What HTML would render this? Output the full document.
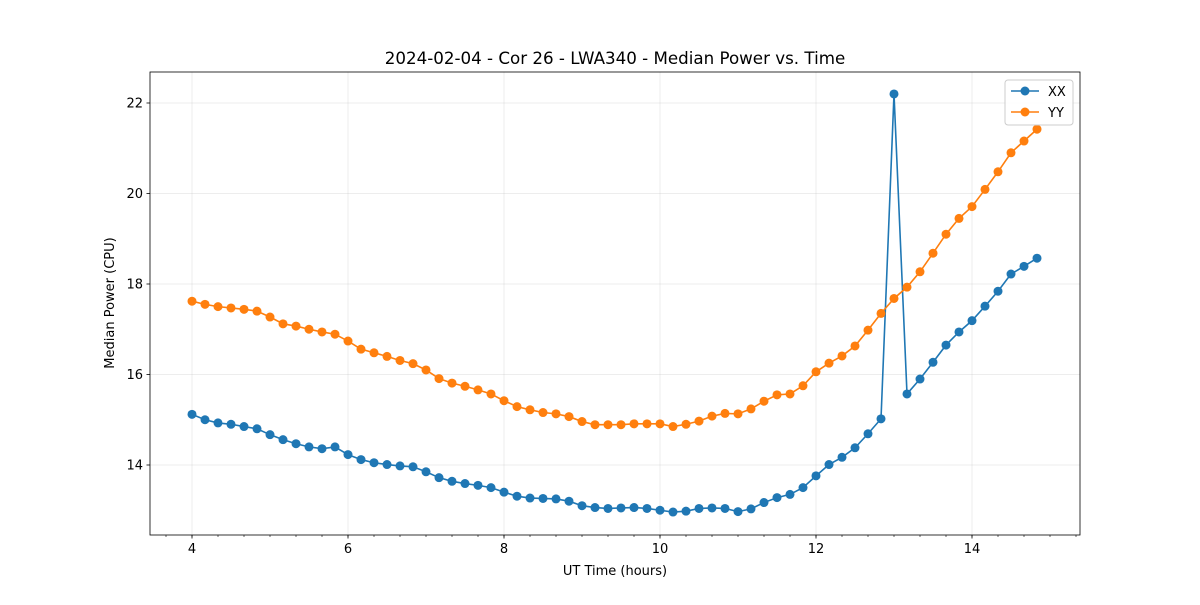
<!DOCTYPE html>
<html><head><meta charset="utf-8">
<style>
body{margin:0;background:#fff;}
svg text{font-family:"DejaVu Sans","Liberation Sans",sans-serif;fill:#000;}
</style></head>
<body>
<svg id="chart" width="1200" height="600" xmlns="http://www.w3.org/2000/svg"></svg>
<script>
const xxValues=[15.12,15.0,14.93,14.9,14.85,14.8,14.67,14.56,14.47,14.4,14.36,14.4,14.23,14.12,14.05,14.01,13.98,13.96,13.85,13.72,13.64,13.59,13.55,13.5,13.4,13.31,13.27,13.26,13.25,13.2,13.1,13.06,13.04,13.05,13.06,13.04,13.0,12.96,12.98,13.04,13.05,13.04,12.97,13.03,13.17,13.28,13.35,13.5,13.76,14.01,14.17,14.38,14.69,15.02,22.2,15.57,15.9,16.27,16.65,16.94,17.19,17.51,17.84,18.22,18.39,18.57];
const yyValues=[17.62,17.55,17.5,17.47,17.44,17.4,17.27,17.12,17.07,17.0,16.94,16.89,16.74,16.56,16.48,16.4,16.31,16.24,16.1,15.91,15.81,15.74,15.66,15.57,15.42,15.29,15.22,15.16,15.13,15.07,14.96,14.89,14.89,14.89,14.91,14.91,14.91,14.85,14.9,14.97,15.08,15.14,15.13,15.24,15.41,15.55,15.57,15.75,16.06,16.25,16.41,16.63,16.98,17.35,17.68,17.93,18.27,18.68,19.1,19.45,19.71,20.09,20.48,20.9,21.16,21.42];
const xTicks=[4,6,8,10,12,14];
const yTicks=[14,16,18,20,22];
const startHour=4, stepHour=1/6;

const L=150,R=1080,T=72,B=535;
const xMin=3.4615,xMax=15.3846,yMin=12.453,yMax=22.685;
const sx=v=>L+(v-xMin)/(xMax-xMin)*(R-L);
const sy=v=>B-(v-yMin)/(yMax-yMin)*(B-T);
const svg=document.getElementById('chart');
const NS='http://www.w3.org/2000/svg';
function mk(tag,attrs,parent){const e=document.createElementNS(NS,tag);for(const k in attrs)e.setAttribute(k,attrs[k]);(parent||svg).appendChild(e);return e;}

xTicks.forEach(t=>{const g=mk('line',{x1:sx(t),x2:sx(t),y1:T,y2:B,stroke:'#b0b0b0','stroke-opacity':0.3,'stroke-width':0.8});

});
yTicks.forEach(t=>{const g=mk('line',{x1:L,x2:R,y1:sy(t),y2:sy(t),stroke:'#b0b0b0','stroke-opacity':0.3,'stroke-width':0.8});

});

function series(vals,color,name){
  const pts=vals.map((v,i)=>sx(startHour+i*stepHour)+','+sy(v)).join(' ');
  const pl=mk('polyline',{points:pts,fill:'none',stroke:color,'stroke-width':1.6});
  
  
  vals.forEach((v,i)=>{const c=mk('circle',{cx:sx(startHour+i*stepHour),cy:sy(v),r:4.5,fill:color});
    
    });
}
series(xxValues,'#1f77b4','xx');
series(yyValues,'#ff7f0e','yy');

const fr=mk('rect',{x:L,y:T,width:R-L,height:B-T,fill:'none',stroke:'#000','stroke-width':0.8});



for(let m=3+2/3;m<15.4;m+=1/3){const x=sx(m);const t=mk('line',{x1:x,x2:x,y1:B,y2:B+2,stroke:'#000','stroke-width':0.6});

}
xTicks.forEach(v=>{mk('line',{x1:sx(v),x2:sx(v),y1:B,y2:B+3.5,stroke:'#000','stroke-width':0.8});
const t=mk('text',{x:sx(v),y:B+18,'text-anchor':'middle','font-size':13});t.textContent=v;

});
yTicks.forEach(v=>{mk('line',{x1:L-3.5,x2:L,y1:sy(v),y2:sy(v),stroke:'#000','stroke-width':0.8});
const t=mk('text',{x:L-7,y:sy(v)+4.5,'text-anchor':'end','font-size':13});t.textContent=v;

});
</script>
<svg style="position:absolute;left:0;top:0" width="1200" height="600" xmlns="http://www.w3.org/2000/svg">
<text x="615" y="64" text-anchor="middle" font-size="16.7">2024-02-04 - Cor 26 - LWA340 - Median Power vs. Time</text>
<text x="615" y="575" text-anchor="middle" font-size="13">UT Time (hours)</text>
<text transform="translate(114,303) rotate(-90)" text-anchor="middle" font-size="13">Median Power (CPU)</text>
<g>
<rect x="1005" y="80" width="68" height="45" rx="3" fill="#fff" fill-opacity="0.8" stroke="#ccc"/>
<g><line x1="1011" x2="1039" y1="91" y2="91" stroke="#1f77b4" stroke-width="1.5"/><circle cx="1025" cy="91" r="4.5" fill="#1f77b4"/><text x="1048" y="96" font-size="13">XX</text></g>
<g><line x1="1011" x2="1039" y1="112" y2="112" stroke="#ff7f0e" stroke-width="1.5"/><circle cx="1025" cy="112" r="4.5" fill="#ff7f0e"/><text x="1048" y="117" font-size="13">YY</text></g>
</g>
</svg>
</body></html>
